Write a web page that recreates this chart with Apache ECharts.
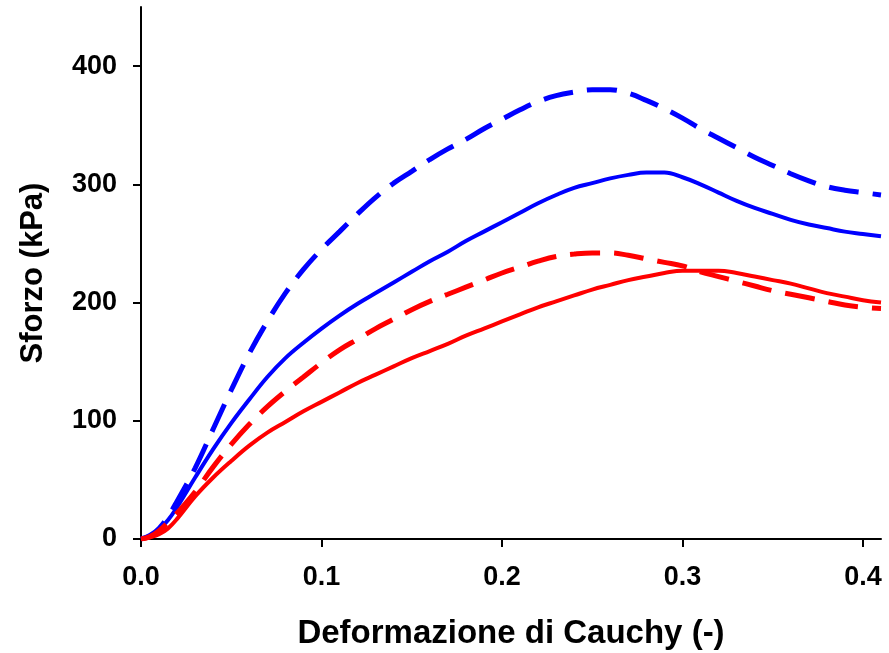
<!DOCTYPE html>
<html>
<head>
<meta charset="utf-8">
<script src="https://cdn.jsdelivr.net/npm/echarts@6/dist/echarts.min.js"></script>
<style>
html,body{margin:0;padding:0;background:#fff;}
#chart{width:889px;height:653px;}
</style>
</head>
<body>
<div id="chart"></div>
<script>
// Tick values
var xTicks = [0, 0.1, 0.2, 0.3, 0.4];
var yTicks = [0, 100, 200, 300, 400];

// Strain values (x) shared by all series
var strain = [0, 0.005, 0.01, 0.015, 0.02, 0.03, 0.04, 0.05, 0.06, 0.07, 0.08, 0.09,
  0.10, 0.11, 0.12, 0.13, 0.14, 0.15, 0.16, 0.17, 0.18, 0.19,
  0.20, 0.21, 0.22, 0.23, 0.24, 0.25, 0.26, 0.27, 0.28, 0.29,
  0.30, 0.31, 0.32, 0.33, 0.34, 0.35, 0.36, 0.37, 0.38, 0.39, 0.40, 0.41];

// Blue dashed stress (kPa)
var blueDashed = [0, 3, 9, 19, 32, 60, 93, 126, 157, 184, 208, 228,
  245, 260, 275, 289, 301, 311, 321, 330, 338, 347,
  355, 363, 370, 375, 378, 380, 380, 377, 371, 364,
  356, 347, 339, 331, 323, 316, 309, 303, 298, 295, 293, 291];

// Blue solid stress (kPa)
var blueSolid = [0, 3, 8, 16, 27, 52, 76, 98, 118, 137, 153, 166,
  178, 189, 199, 208, 217, 226, 235, 243, 252, 260,
  268, 276, 284, 291, 297, 301, 305, 308, 310, 310,
  306, 300, 293, 286, 280, 275, 270, 266, 263, 260, 258, 256];

// Red dashed stress (kPa)
var redDashed = [0, 2, 7, 14, 22, 40, 61, 80, 97, 112, 125, 137,
  149, 160, 169, 178, 186, 194, 201, 207, 213, 219,
  225, 230, 235, 239, 241, 242, 242, 240, 237, 234,
  231, 226, 222, 218, 214, 210, 207, 204, 201, 198, 196, 195];

// Red solid stress (kPa)
var redSolid = [0, 1.5, 4, 9, 17, 36, 52, 66, 79, 90, 99, 108,
  116, 124, 132, 139, 146, 153, 159, 165, 172, 178,
  184, 190, 196, 201, 206, 211, 215, 219, 222, 225,
  227, 227, 227, 225, 222, 219, 216, 212, 208, 205, 202, 200];

function pairs(xs, ys) {
  return xs.map(function (x, i) { return [x, ys[i]]; });
}

var chart = echarts.init(document.getElementById('chart'), null, {renderer: 'canvas'});
var font = 'Liberation Sans, Arial, sans-serif';

chart.setOption({
  animation: false,
  backgroundColor: '#ffffff',
  grid: {left: 141, right: 8, top: 7, bottom: 114, containLabel: false, outerBoundsMode: 'none'},
  xAxis: {
    type: 'value',
    min: 0, max: 0.41, interval: 0.1,
    name: 'Deformazione di Cauchy (-)',
    nameLocation: 'middle',
    nameGap: 78,
    nameTextStyle: {color: '#000', fontWeight: 'bold', fontSize: 33, fontFamily: font},
    axisLine: {show: true, onZero: false, lineStyle: {color: '#000', width: 2}},
    axisTick: {show: true, inside: false, length: 8, customValues: xTicks, lineStyle: {color: '#000', width: 2}},
    axisLabel: {color: '#000', fontWeight: 'bold', fontSize: 27, fontFamily: font, margin: 25, customValues: xTicks,
      formatter: function (v) { return v.toFixed(1); }},
    splitLine: {show: false}
  },
  yAxis: {
    type: 'value',
    min: 0, max: 450, interval: 100,
    name: 'Sforzo (kPa)',
    nameLocation: 'middle',
    nameGap: 92,
    nameTextStyle: {color: '#000', fontWeight: 'bold', fontSize: 31, fontFamily: font},
    axisLine: {show: true, lineStyle: {color: '#000', width: 2}},
    axisTick: {show: true, inside: false, length: 8, customValues: yTicks, lineStyle: {color: '#000', width: 2}},
    axisLabel: {color: '#000', fontWeight: 'bold', fontSize: 27, fontFamily: font, margin: 24, customValues: yTicks},
    splitLine: {show: false}
  },
  series: [
    {type: 'line', data: pairs(strain, blueDashed), smooth: 0.4, showSymbol: false, clip: true,
      lineStyle: {color: '#0000ff', width: 5, type: [30, 14], cap: 'butt'}},
    {type: 'line', data: pairs(strain, blueSolid), smooth: 0.4, showSymbol: false, clip: true,
      lineStyle: {color: '#0000ff', width: 4}},
    {type: 'line', data: pairs(strain, redDashed), smooth: 0.4, showSymbol: false, clip: true,
      lineStyle: {color: '#ff0000', width: 5, type: [30, 14], cap: 'butt'}},
    {type: 'line', data: pairs(strain, redSolid), smooth: 0.4, showSymbol: false, clip: true,
      lineStyle: {color: '#ff0000', width: 4}}
  ]
});
</script>
</body>
</html>
